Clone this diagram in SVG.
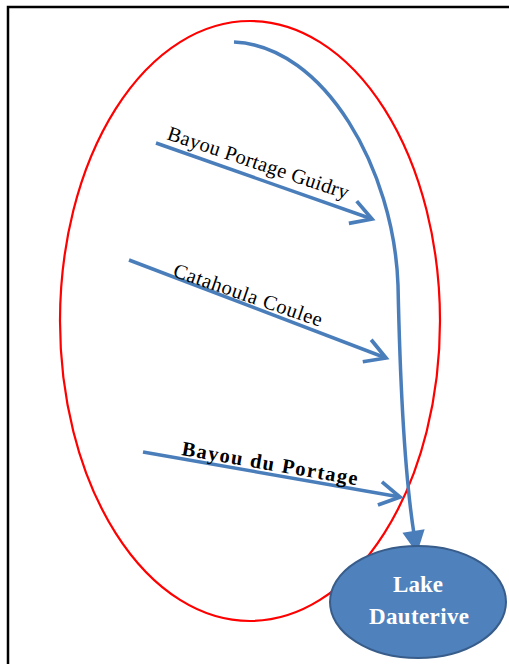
<svg xmlns="http://www.w3.org/2000/svg" width="509" height="664" viewBox="0 0 509 664">
<style>
.flow{fill:none;stroke:#4a7ebb;stroke-width:3.5}
.lbl{font-family:"Liberation Serif","Times New Roman",serif;font-size:20.5px;fill:#000}
.lake{font-family:"Liberation Serif","Times New Roman",serif;font-size:23px;font-weight:bold;fill:#fff}
</style>
<defs>
<marker id="v" markerUnits="userSpaceOnUse" markerWidth="30" markerHeight="30" viewBox="-24 -14 28 28" refX="0" refY="0" orient="auto">
<path d="M-19,-11 L0,0 L-19,11" fill="none" stroke="#4a7ebb" stroke-width="3.5"/>
</marker>
<marker id="tri" markerUnits="userSpaceOnUse" markerWidth="30" markerHeight="30" viewBox="-4 -10 20 20" refX="0" refY="0" orient="auto">
<path d="M-2,-7.5 L13,0 L-2,7.5 Z" fill="#4a7ebb"/>
</marker>
</defs>
<rect x="8" y="7" width="520" height="680" fill="#fff" stroke="#000" stroke-width="2.5"/>
<g id="basin">
<ellipse cx="250" cy="321" rx="190" ry="300" fill="none" stroke="#ff0000" stroke-width="2.2"/>
</g>
<g id="connectors">
<path class="flow" d="M234,42 C325,46 394,170 398,285 C400,380 404,470 414,534" marker-end="url(#tri)"/>
<path class="flow" d="M156,143 L372,219" marker-end="url(#v)"/>
<path class="flow" d="M129,260 L386,358" marker-end="url(#v)"/>
<path class="flow" d="M143,452 L400,497" marker-end="url(#v)"/>
</g>
<g id="label-guidry">
<text class="lbl" transform="translate(166,139) rotate(18.5)" textLength="190" lengthAdjust="spacing">Bayou Portage Guidry</text>
</g>
<g id="label-catahoula">
<text class="lbl" transform="translate(172,276) rotate(19)" textLength="156" lengthAdjust="spacing">Catahoula Coulee</text>
</g>
<g id="label-portage">
<text class="lbl" font-weight="bold" font-size="21.5" transform="translate(181,455) rotate(9.8)" textLength="178" lengthAdjust="spacing">Bayou du Portage</text>
</g>
<g id="lake">
<ellipse cx="418" cy="602" rx="88" ry="56" fill="#4f81bd" stroke="#385d8a" stroke-width="2"/>
<text class="lake" x="418" y="592" text-anchor="middle">Lake</text>
<text class="lake" x="419" y="624" text-anchor="middle" textLength="100" lengthAdjust="spacing">Dauterive</text>
</g>
</svg>
